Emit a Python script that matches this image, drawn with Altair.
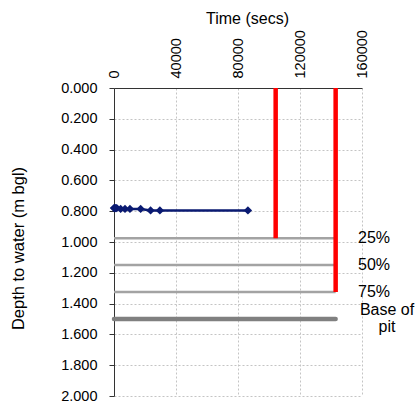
import altair as alt
import pandas as pd

# Test data
time_s = [0, 300, 700, 1200, 1800, 4300, 7100, 10300, 17200, 23600, 29600, 86400]
depth_m = [0.78, 0.78, 0.78, 0.78, 0.78, 0.785, 0.785, 0.785, 0.785, 0.795, 0.795, 0.795]

# Vertical red markers
red_time = [104300, 143000]
red_top = [0.0, 0.0]
red_bottom = [0.975, 1.325]

# Horizontal reference levels
level_names = ["25%", "50%", "75%"]
level_depth = [0.975, 1.15, 1.325]
level_end = 143000
base_name = "Base of\npit"
base_depth = 1.5

x_ticks = [0, 40000, 80000, 120000, 160000]
y_ticks = [0.0, 0.2, 0.4, 0.6, 0.8, 1.0, 1.2, 1.4, 1.6, 1.8, 2.0]

FONT = "Liberation Sans"
W, H = 248, 308

xs = alt.Scale(domain=[0, 160000], nice=False, zero=False)
ys = alt.Scale(domain=[0, 2], reverse=True, nice=False)

df = pd.DataFrame({"t": time_s, "d": depth_m})
red_df = pd.DataFrame({"t": red_time, "d1": red_top, "d2": red_bottom})
lev_df = pd.DataFrame({"name": level_names, "d": level_depth,
                       "t1": [0] * 3, "t2": [level_end] * 3})
base_df = pd.DataFrame({"name": [base_name], "d": [base_depth], "t1": [0], "t2": [level_end]})

xaxis = alt.Axis(orient="top", values=x_ticks, tickCount=20, format="d", labelAngle=270,
                 title="Time (secs)", grid=True, gridDash=[2, 2], gridColor="#c4c4c4",
                 domainColor="#333333", ticks=False, labelPadding=10,
                 labelOverlap=False, labelFlush=False,
                 labelFont=FONT, labelFontSize=14.5, labelColor="#000",
                 titleFont=FONT, titleFontSize=16, titleFontWeight="normal",
                 titleColor="#000", titleX=133, titleY=-70,
                 titleBaseline="middle", titleAlign="center")
yaxis = alt.Axis(values=y_ticks, tickCount=20, format=".3f", title="Depth to water (m bgl)",
                 grid=True, gridDash=[2, 2], gridColor="#c4c4c4",
                 domainColor="#333333", tickColor="#333333", tickSize=5,
                 labelOverlap=False, labelFlush=False,
                 labelFont=FONT, labelFontSize=14.5, labelColor="#000", labelPadding=12,
                 titleFont=FONT, titleFontSize=16.5, titleFontWeight="normal",
                 titleColor="#000", titleX=-96, titleY=160, titleAngle=270,
                 titleBaseline="middle", titleAlign="center")

grid_base = alt.Chart(df).mark_point(opacity=0).encode(
    x=alt.X("t:Q", scale=xs, axis=xaxis),
    y=alt.Y("d:Q", scale=ys, axis=yaxis),
)

levels = alt.Chart(lev_df).mark_rule(color="#a3a3a3", strokeWidth=2.5).encode(
    x=alt.X("t1:Q", scale=xs), x2="t2:Q", y=alt.Y("d:Q", scale=ys))
base = alt.Chart(base_df).mark_rule(color="#808080", strokeWidth=4.5, strokeCap="round").encode(
    x=alt.X("t1:Q", scale=xs), x2="t2:Q", y=alt.Y("d:Q", scale=ys))
reds = alt.Chart(red_df).mark_rule(color="#ff0000", strokeWidth=4.5).encode(
    x=alt.X("t:Q", scale=xs), y=alt.Y("d1:Q", scale=ys), y2="d2:Q")

line = alt.Chart(df).mark_line(color="#0a1a72", strokeWidth=2.5).encode(
    x=alt.X("t:Q", scale=xs), y=alt.Y("d:Q", scale=ys))
pts = alt.Chart(df).mark_point(shape="diamond", filled=True, color="#0a1a72",
                               size=70, opacity=1).encode(
    x=alt.X("t:Q", scale=xs), y=alt.Y("d:Q", scale=ys))

lev_text = alt.Chart(lev_df).mark_text(align="left", baseline="middle", font=FONT,
                                       fontSize=16, color="#000").encode(
    x=alt.value(244), y=alt.Y("d:Q", scale=ys), text="name:N")
base_text = alt.Chart(base_df).mark_text(align="center", baseline="middle", font=FONT,
                                         fontSize=16, color="#000", lineBreak="\n",
                                         lineHeight=17, dy=-9).encode(
    x=alt.value(273), y=alt.Y("d:Q", scale=ys), text="name:N")

chart = alt.layer(grid_base, levels, base, reds, line, pts, lev_text, base_text).properties(
    width=W, height=H,
    autosize=alt.AutoSizeParams(type="none"),
    padding={"left": 114, "top": 88, "right": 58, "bottom": 9},
    background="white",
).configure_view(stroke=None)

chart.save("out.html", embed_options={"renderer": "svg", "actions": False})
